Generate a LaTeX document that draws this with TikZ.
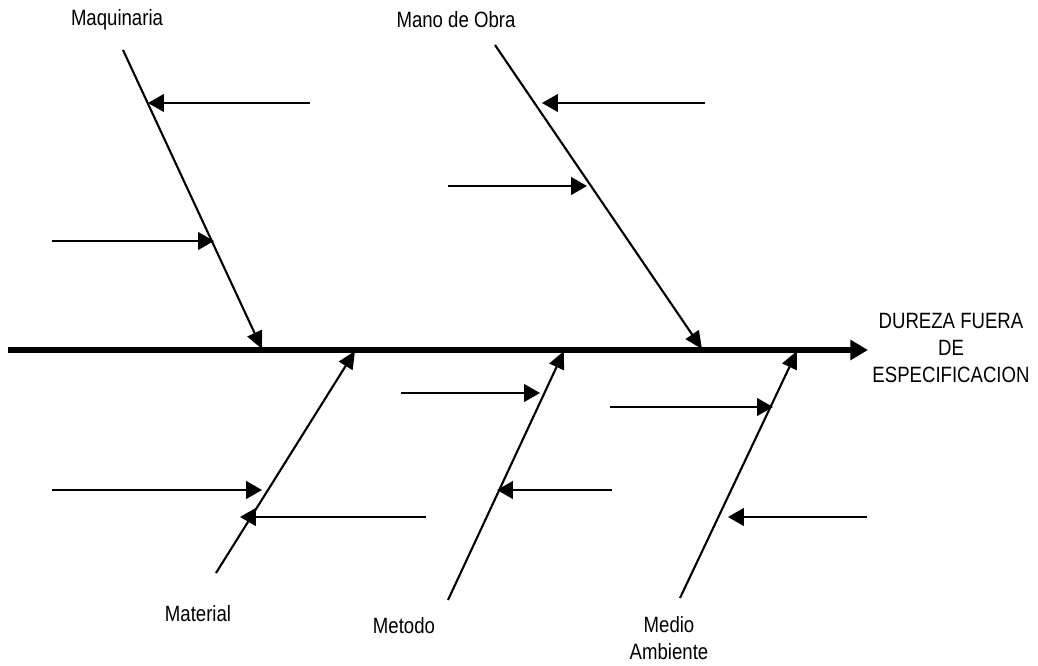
\documentclass[tikz,border=0pt]{standalone}
\usepackage{fontspec}
\setmainfont{Liberation Sans}[FakeStretch=0.84]
\usetikzlibrary{arrows.meta}

\tikzset{
  spine/.style = {line width=3.4pt, -{Triangle[length=10pt,width=11pt]}},
  bone/.style = {line width=1.2pt, -{Triangle[length=10pt,width=9pt]}},
  cause/.style = {line width=1.2pt, -{Triangle[length=9pt,width=10pt]}},
  label/.style = {font=\fontsize{12.6}{15.2}\selectfont, align=center, inner sep=0pt}
}

\begin{document}
\begin{tikzpicture}[x = 0.02cm, y = -0.02cm]
\useasboundingbox (0,0) rectangle (1038,666);

% main spine and the effect
\coordinate (tail) at (8,350);
\coordinate (head) at (868,350);
\draw [spine] (tail) -- (head);
\node [label] (effect) at (951,348) {DUREZA FUERA\\DE\\ESPECIFICACION};

% Maquinaria
\node [label] (maq) at (117,20) {Maquinaria};
\coordinate (maqtop) at (123,50);
\coordinate (maqend) at (262,349);
\draw [bone] (maqtop) -- (maqend);
\coordinate (maqa) at (310,103);
\coordinate (maqb) at (148,103);
\draw [cause] (maqa) -- (maqb);
\coordinate (maqc) at (52,241);
\coordinate (maqd) at (214,241);
\draw [cause] (maqc) -- (maqd);

% Mano de Obra
\node [label] (mano) at (456,20) {Mano de Obra};
\coordinate (manotop) at (495,45);
\coordinate (manoend) at (702,349);
\draw [bone] (manotop) -- (manoend);
\coordinate (manoa) at (705,103);
\coordinate (manob) at (542,103);
\draw [cause] (manoa) -- (manob);
\coordinate (manoc) at (448,186);
\coordinate (manod) at (587,186);
\draw [cause] (manoc) -- (manod);

% Material
\node [label] (mat) at (198,614) {Material};
\coordinate (matbot) at (216,573);
\coordinate (matend) at (355,351);
\draw [bone] (matbot) -- (matend);
\coordinate (mata) at (52,490);
\coordinate (matb) at (262,490);
\draw [cause] (mata) -- (matb);
\coordinate (matc) at (426,517);
\coordinate (matd) at (240,517);
\draw [cause] (matc) -- (matd);

% Metodo
\node [label] (met) at (404,626) {Metodo};
\coordinate (metbot) at (448,600);
\coordinate (metend) at (564,351);
\draw [bone] (metbot) -- (metend);
\coordinate (meta) at (401,393);
\coordinate (metb) at (540,393);
\draw [cause] (meta) -- (metb);
\coordinate (metc) at (612,490);
\coordinate (metd) at (497,490);
\draw [cause] (metc) -- (metd);

% Medio Ambiente
\node [label] (med) at (669,638) {Medio\\Ambiente};
\coordinate (medbot) at (680,598);
\coordinate (medend) at (797,351);
\draw [bone] (medbot) -- (medend);
\coordinate (meda) at (610,407);
\coordinate (medb) at (773,407);
\draw [cause] (meda) -- (medb);
\coordinate (medc) at (867,517);
\coordinate (medd) at (728,517);
\draw [cause] (medc) -- (medd);
\end{tikzpicture}
\end{document}
